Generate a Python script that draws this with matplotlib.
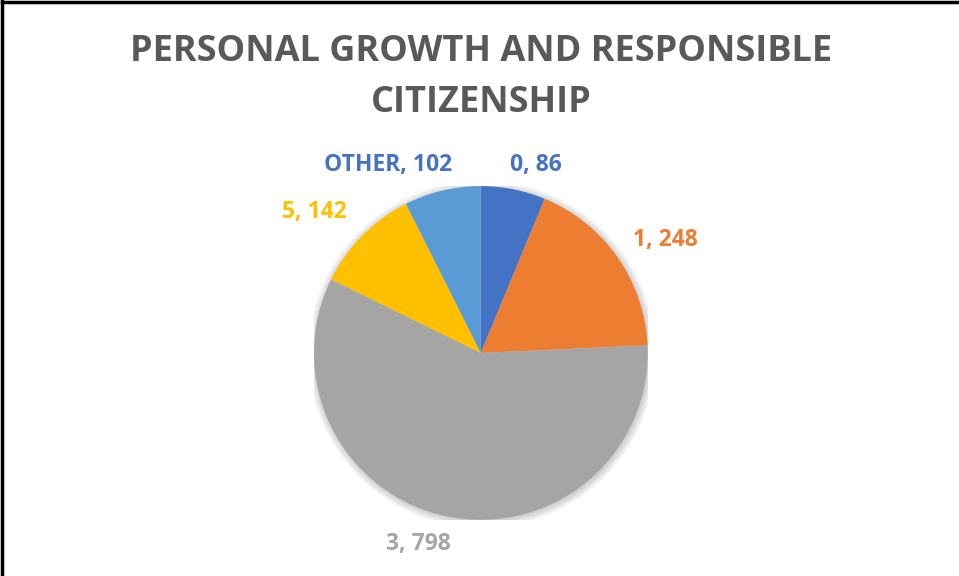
import matplotlib.pyplot as plt
import numpy as np
from matplotlib.lines import Line2D
from matplotlib.patches import Circle

# Responses per rating
categories = ['0', '1', '3', '5', 'OTHER']
counts = [86, 248, 798, 142, 102]
colors = ['#4472C4', '#ED7D31', '#A5A5A5', '#FFC000', '#5B9BD5']
label_colors = ['#4472C4', '#ED7D31', '#A5A5A5', '#FFC000', '#4472C4']
title = 'PERSONAL GROWTH AND RESPONSIBLE\nCITIZENSHIP'

# label placement: radius (in pie radii) and angle nudge (deg) per slice
label_dist = [1.174, 1.298, 1.204, 1.309, 1.256]
label_nudge = [-5.2, -3.7, -6.4, 4.5, 13.0]

plt.rcParams['font.family'] = ['Open Sans', 'DejaVu Sans']

fig = plt.figure(figsize=(9.59, 5.76), dpi=100)
fig.patch.set_facecolor('white')

ax = fig.add_axes([0.3274, 0.0972, 0.348, 0.58])

# soft shadow behind the pie
for i in range(12):
    r = 1.0 + 0.004 * i
    ax.add_patch(Circle((0.006, -0.008), r, color='black', alpha=0.016, lw=0, zorder=0))

wedges, _ = ax.pie(counts, colors=colors, startangle=90, counterclock=False,
                   radius=1.0, wedgeprops=dict(linewidth=0))
for w in wedges:
    w.set_zorder(2)

for w, cat, val, col, d, nudge in zip(wedges, categories, counts, label_colors,
                                      label_dist, label_nudge):
    mid = np.deg2rad((w.theta1 + w.theta2) / 2 + nudge)
    x, y = d * np.cos(mid), d * np.sin(mid)
    ax.text(x, y, f'{cat}, {val}', ha='center', va='center', color=col,
            fontsize=16.5, fontweight='bold', clip_on=False)

ax.set_xlim(-1, 1)
ax.set_ylim(-1, 1)
ax.set_aspect('equal')
ax.axis('off')

fig.text(0.5016, 0.866, title, ha='center', va='center', color='#595959',
         fontsize=26, fontweight='bold', linespacing=1.56)

# chart border (top and left edges)
fig.add_artist(Line2D([0.002, 0.002], [0, 0.998], color='black', lw=2.5, transform=fig.transFigure))
fig.add_artist(Line2D([0.002, 1], [0.997, 0.997], color='black', lw=2.5, transform=fig.transFigure))

fig.savefig('out.png', dpi=100, facecolor='white')
